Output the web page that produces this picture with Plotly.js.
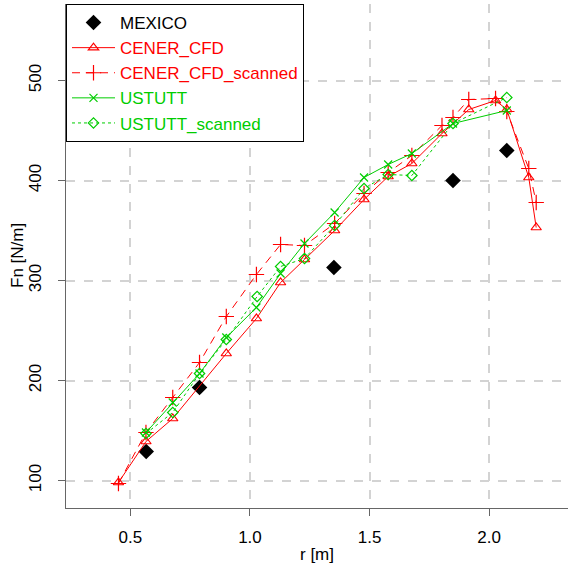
<!DOCTYPE html>
<html>
<head>
<meta charset="utf-8">
<script src="https://cdn.plot.ly/plotly-3.0.1.min.js"></script>
<style>html,body{margin:0;padding:0;background:#fff;}#chart{width:568px;height:564px;}</style>
</head>
<body>
<div id="chart"></div>
<script>
// MEXICO (measurements)
const mexR = [0.566, 0.789, 1.351, 1.849, 2.074];
const mexF = [129, 193, 313, 400, 430];

// CENER_CFD
const cenerR = [0.45, 0.565, 0.677, 0.901, 1.027, 1.128, 1.228, 1.354, 1.477, 1.578, 1.677, 1.803, 1.915, 2.027, 2.074, 2.166, 2.197];
const cenerF = [98, 139, 162, 227, 262, 298, 321, 350, 381, 404, 417, 447, 471, 480, 471, 403, 353];

// CENER_CFD_scanned
const cenerScR = [0.45, 0.565, 0.677, 0.789, 0.901, 1.027, 1.128, 1.228, 1.354, 1.477, 1.578, 1.677, 1.803, 1.849, 1.915, 2.027, 2.074, 2.166, 2.197];
const cenerScF = [97, 148, 183, 218, 264, 306, 336, 335, 357, 387, 408, 425, 455, 463, 481, 482, 469, 412, 378];

// USTUTT
const ustR = [0.565, 0.677, 0.789, 0.901, 1.027, 1.128, 1.228, 1.354, 1.477, 1.578, 1.677, 1.849, 2.074];
const ustF = [148, 178, 207, 243, 273, 307, 337, 368, 403, 416, 427, 457, 470];

// USTUTT_scanned
const ustScR = [0.565, 0.677, 0.789, 0.901, 1.030, 1.128, 1.228, 1.354, 1.477, 1.578, 1.677, 1.849, 2.074];
const ustScF = [147, 168, 207, 241, 284, 314, 322, 355, 392, 406, 405, 457, 483];

const seriesNames = ['MEXICO', 'CENER_CFD', 'CENER_CFD_scanned', 'USTUTT', 'USTUTT_scanned'];
const xTicks = [0.5, 1.0, 1.5, 2.0];
const xTickText = ["0.5", "1.0", "1.5", "2.0"];
const yTicks = [100, 200, 300, 400, 500];
const yTitle = 'Fn [N/m]';
const xTitle = 'r [m]';

const RED = '#FF0000';
const GREEN = '#00CD00';
const BLACK = '#000000';
const FONT = 'Liberation Sans, Arial, sans-serif';
const colored = (t, c) => '<span style="color:' + c + '">' + t + '</span>';

const traces = [
  {x: mexR, y: mexF, name: colored(seriesNames[0], BLACK), mode: 'markers', type: 'scatter',
   marker: {symbol: 'diamond', size: 12, color: BLACK}},
  {x: cenerR, y: cenerF, name: colored(seriesNames[1], RED), mode: 'lines+markers', type: 'scatter',
   line: {color: RED, width: 1, dash: 'solid'},
   marker: {symbol: 'triangle-up-open', size: 9, color: RED, line: {width: 1.2, color: RED}}},
  {x: cenerScR, y: cenerScF, name: colored(seriesNames[2], RED), mode: 'lines+markers', type: 'scatter',
   line: {color: RED, width: 1, dash: '8px,6px'},
   marker: {symbol: 'cross-thin-open', size: 11, color: RED, line: {width: 1.2, color: RED}}},
  {x: ustR, y: ustF, name: colored(seriesNames[3], GREEN), mode: 'lines+markers', type: 'scatter',
   line: {color: GREEN, width: 1, dash: 'solid'},
   marker: {symbol: 'x-thin-open', size: 8, color: GREEN, line: {width: 1.2, color: GREEN}}},
  {x: ustScR, y: ustScF, name: colored(seriesNames[4], GREEN), mode: 'lines+markers', type: 'scatter',
   line: {color: GREEN, width: 1, dash: 'dot'},
   marker: {symbol: 'diamond-open', size: 8, color: GREEN, line: {width: 1.2, color: GREEN}}}
];

const layout = {
  width: 568, height: 564,
  margin: {l: 66, r: 0, t: 4, b: 56, pad: 0},
  paper_bgcolor: '#ffffff', plot_bgcolor: '#ffffff',
  font: {family: FONT, size: 16, color: '#000'},
  showlegend: true,
  legend: {x: 0, y: 1, xanchor: 'left', yanchor: 'top', bgcolor: '#ffffff',
           bordercolor: '#000000', borderwidth: 1,
           font: {family: FONT, size: 17},
           tracegroupgap: 0, itemwidth: 43},
  xaxis: {
    range: [0.2306, 2.330], tickvals: xTicks, ticktext: xTickText,
    showline: true, linecolor: '#666', linewidth: 1,
    ticks: 'outside', ticklen: 7, tickcolor: '#666', tickwidth: 1,
    showgrid: true, gridcolor: '#d3d3d3', gridwidth: 2, griddash: 'dash',
    zeroline: false, tickfont: {size: 17}, ticklabelstandoff: 7,
    title: {text: xTitle, font: {size: 17}, standoff: 1}
  },
  yaxis: {
    range: [72.5, 576.5], tickvals: yTicks,
    showline: true, linecolor: '#666', linewidth: 1,
    ticks: 'outside', ticklen: 7, tickcolor: '#666', tickwidth: 1,
    showgrid: true, gridcolor: '#d3d3d3', gridwidth: 2, griddash: 'dash',
    zeroline: false, tickangle: -90, tickfont: {size: 17}, ticklabelstandoff: 10,
    title: {text: ''}
  },
  annotations: [
    {text: yTitle, xref: 'paper', yref: 'paper', x: -0.0976, y: 0.5,
     xanchor: 'center', yanchor: 'middle', textangle: -90, showarrow: false,
     font: {family: FONT, size: 17, color: '#000'}}
  ]
};

Plotly.newPlot('chart', traces, layout, {displayModeBar: false, staticPlot: true});
</script>
</body>
</html>
